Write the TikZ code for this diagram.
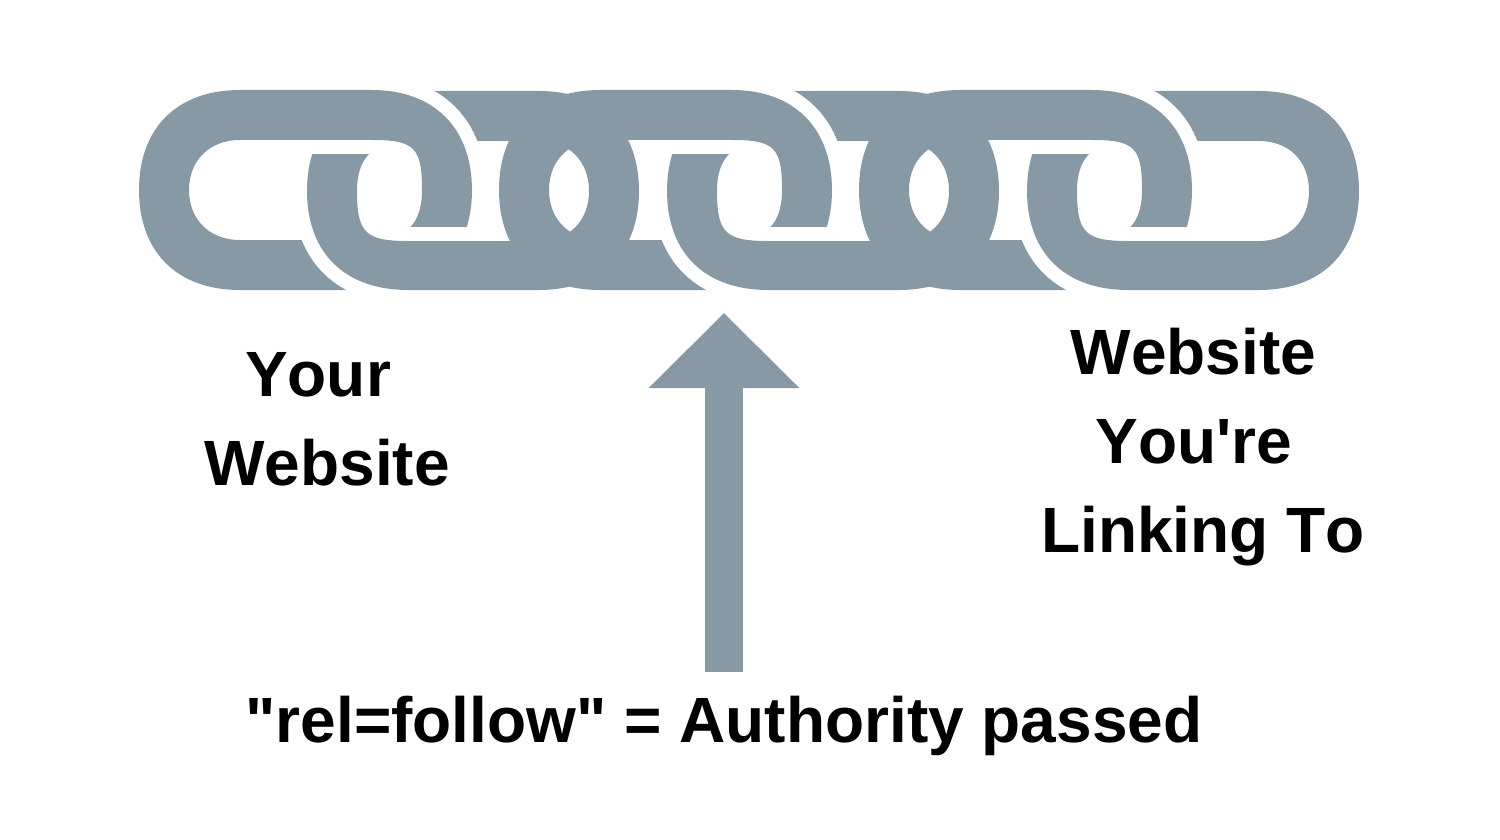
\documentclass[tikz,border=0pt]{standalone}
\usepackage{fontspec}
\newfontfamily\labfont{Liberation Sans}[Kerning=Off]
\usetikzlibrary{arrows.meta}
\definecolor{slate}{HTML}{8899A6}
\newcommand\linkApath{(240,90) -- (372,90) .. controls (434,90) and (472,128) .. (472,190) .. controls (472,252) and (434,290) .. (372,290) -- (240,290) .. controls (177,290) and (139,252) .. (139,190) .. controls (139,128) and (177,90) .. (240,90) -- cycle
 (240,140) -- (372,140) .. controls (414.5,140) and (422,147.5) .. (422,190) .. controls (422,224) and (406,240) .. (372,240) -- (240,240) .. controls (210,240) and (189,220) .. (189,190) .. controls (189,160) and (210,140) .. (240,140) -- cycle}
\newcommand\linkBpath{(408,91) -- (539,91) .. controls (601,91) and (639,129) .. (639,191) .. controls (639,253) and (601,290) .. (539,290) -- (408,290) .. controls (345,290) and (307,253) .. (307,191) .. controls (307,129) and (345,91) .. (408,91) -- cycle
 (408,141) -- (539,141) .. controls (569,141) and (589,161) .. (589,191) .. controls (589,221) and (569,241) .. (539,241) -- (408,241) .. controls (365.5,241) and (357,233) .. (357,191) .. controls (357,157) and (374,141) .. (408,141) -- cycle}
\tikzset{
  x=1pt, y=-1pt,
  chainfill/.style={fill=slate, even odd rule},
  halo/.style={draw=white, fill=white, even odd rule, line width=28pt},
  lab/.style={anchor=base, inner sep=0pt, text=black, font=\labfont\bfseries\fontsize{64}{70}\selectfont},
  pointer/.style={draw=slate, line width=38pt, -{Triangle[width=146pt,length=75pt]}}
}
\begin{document}
\begin{tikzpicture}
\useasboundingbox (0,0) rectangle (1500,840);
% upper half: the A links lie over the B links
\begin{scope}
  \clip (0,0) rectangle (1500,191);
  \foreach \d in {0,360,720} \fill[chainfill, xshift=\d pt] \linkBpath;
  \foreach \d in {0,360,720} {
    \begin{scope}[xshift=\d pt]
      \clip (285,0) rectangle (490,191);
      \path[halo] \linkApath;
    \end{scope}
  }
  \foreach \d in {0,360,720} \fill[chainfill, xshift=\d pt] \linkApath;
\end{scope}
% lower half: the B links lie over the A links
\begin{scope}
  \clip (0,190) rectangle (1500,320);
  \foreach \d in {0,360,720} \fill[chainfill, xshift=\d pt] \linkApath;
  \foreach \d in {0,360,720} {
    \begin{scope}[xshift=\d pt]
      \clip (285,190) rectangle (490,320);
      \path[halo] \linkBpath;
    \end{scope}
  }
  \foreach \d in {0,360,720} \fill[chainfill, xshift=\d pt] \linkBpath;
\end{scope}
\node[lab] (your) at (318,396) {Your};
\node[lab] (yourweb) at (327,485) {Website};
\node[lab] (otherweb) at (1193.5,374) {Website};
\node[lab] (youre) at (1194,463) {You're};
\node[lab] (linking) at (1203,552) {Linking To};
\node[lab] (caption) at (724,742) {"rel=follow" = Authority passed};
\coordinate (tail) at (724,672);
\coordinate (tip) at (724,313);
\draw[pointer] (tail) -- (tip);
\end{tikzpicture}
\end{document}
